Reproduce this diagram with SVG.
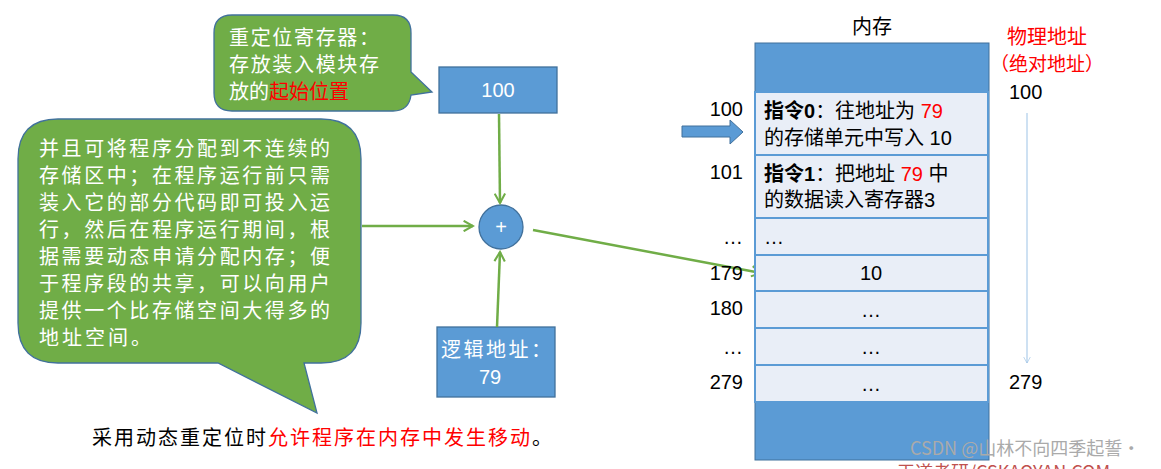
<svg xmlns="http://www.w3.org/2000/svg" width="1161" height="469" viewBox="0 0 1161 469">
<style>
text{font-family:"Liberation Sans","Noto Sans CJK SC",sans-serif;}
.cjk{font-family:"Noto Sans CJK SC",sans-serif;}
.w{fill:#fff;font-size:20px}
.k{fill:#000;font-size:20px}
.r{fill:#f00}
.blue{fill:#5b9bd5;stroke:#41719c;stroke-width:1.3}
.cell{fill:#e9eef7;stroke:#5b9bd5;stroke-width:2}
.green{fill:#70ad47;stroke:#41719c;stroke-width:1.3}
.con{stroke:#70ad47;stroke-width:2.5;fill:none}
</style>
<defs>
<marker id="ga" viewBox="0 0 12 12" refX="10" refY="6" markerWidth="5" markerHeight="5" orient="auto"><path d="M1,1 L10,6 L1,11" fill="none" stroke="#70ad47" stroke-width="2"/></marker>
<marker id="ba" viewBox="0 0 12 12" refX="10" refY="6" markerWidth="8" markerHeight="8" orient="auto"><path d="M1,1 L10,6 L1,11" fill="none" stroke="#9dc3e6" stroke-width="1"/></marker>
</defs>
<rect width="1161" height="469" fill="#fff"/>
<g id="callout-top">
<path class="green" d="M232,15 H393 Q411,15 411,33 V72 L432,92 L411,95 Q409,111 393,111 H232 Q214,111 214,93 V33 Q214,15 232,15 Z"/>
<text class="w cjk" x="229" y="45" textLength="150">重定位寄存器：</text>
<text class="w cjk" x="229" y="72" textLength="150">存放装入模块存</text>
<text class="w cjk" x="229" y="99">放的<tspan class="r">起始位置</tspan></text>
</g>
<g id="callout-big">
<path class="green" d="M58,119 H321 Q361,119 361,159 V323 Q361,363 321,363 H304 L317,413 L218,363 H58 Q18,363 18,323 V159 Q18,119 58,119 Z"/>
<g class="w cjk">
<text x="39" y="156" textLength="291">并且可将程序分配到不连续的</text>
<text x="39" y="183" textLength="291">存储区中；在程序运行前只需</text>
<text x="39" y="210" textLength="291">装入它的部分代码即可投入运</text>
<text x="39" y="237" textLength="291">行，然后在程序运行期间，根</text>
<text x="39" y="264" textLength="291">据需要动态申请分配内存；便</text>
<text x="39" y="291" textLength="291">于程序段的共享，可以向用户</text>
<text x="39" y="318" textLength="291">提供一个比存储空间大得多的</text>
<text x="39" y="345" textLength="112">地址空间。</text>
</g>
</g>
<g id="reg"><rect class="blue" x="439" y="67" width="118" height="46"/><text class="w" x="498" y="97" text-anchor="middle">100</text></g>
<g id="adder"><circle class="blue" cx="501" cy="227" r="22"/><text class="w" x="501" y="234" text-anchor="middle" font-size="17">+</text></g>
<g id="logical"><rect class="blue" x="437" y="327" width="118" height="70"/><text class="w cjk" x="441" y="357" textLength="110">逻辑地址：</text><text class="w" x="490" y="384" text-anchor="middle">79</text></g>
<g id="connectors">
<line class="con" x1="499" y1="114" x2="500" y2="203" marker-end="url(#ga)"/>
<line class="con" x1="362" y1="226" x2="473" y2="226" marker-end="url(#ga)"/>
<line class="con" x1="497" y1="327" x2="500" y2="252" marker-end="url(#ga)"/>
<line class="con" x1="533" y1="230" x2="761" y2="273" marker-end="url(#ga)"/>
<line x1="1027" y1="113" x2="1027" y2="363" stroke="#9dc3e6" stroke-width="1" marker-end="url(#ba)"/>
<path d="M682,126 H730 V120 L743,132 L730,144 V137 H682 Z" fill="#5b9bd5" stroke="#41719c"/>
</g>
<g id="memory">
<text class="k cjk" x="872" y="34" text-anchor="middle" font-size="21">内存</text>
<rect x="755" y="43" width="234" height="417" fill="#5b9bd5" stroke="#41719c"/>
<rect class="cell" x="755" y="92" width="233" height="63"/>
<rect class="cell" x="755" y="155" width="233" height="63"/>
<rect class="cell" x="755" y="218" width="233" height="37"/>
<rect class="cell" x="755" y="255" width="233" height="36"/>
<rect class="cell" x="755" y="291" width="233" height="37"/>
<rect class="cell" x="755" y="328" width="233" height="37"/>
<rect class="cell" x="755" y="365" width="233" height="37"/>
<g class="k">
<text x="764" y="118"><tspan font-weight="bold">指令0</tspan>：往地址为 <tspan class="r">79</tspan></text>
<text x="764" y="145">的存储单元中写入 10</text>
<text x="764" y="181"><tspan font-weight="bold">指令1</tspan>：把地址 <tspan class="r">79</tspan> 中</text>
<text x="764" y="207">的数据读入寄存器3</text>
<text x="764" y="244">…</text>
<text x="871" y="280" text-anchor="middle">10</text>
<text x="871" y="317" text-anchor="middle">…</text>
<text x="871" y="354" text-anchor="middle">…</text>
<text x="871" y="391" text-anchor="middle">…</text>
<text x="743" y="116" text-anchor="end">100</text>
<text x="743" y="179" text-anchor="end">101</text>
<text x="743" y="244" text-anchor="end">…</text>
<text x="743" y="280" text-anchor="end">179</text>
<text x="743" y="315" text-anchor="end">180</text>
<text x="743" y="354" text-anchor="end">…</text>
<text x="743" y="389" text-anchor="end">279</text>
<text x="1009" y="99">100</text>
<text x="1009" y="389">279</text>
</g>
<text class="r cjk" x="1047" y="44" text-anchor="middle" font-size="20">物理地址</text>
<text class="r cjk" x="1047" y="71" text-anchor="middle" font-size="19">（绝对地址）</text>
</g>
<text class="k cjk" x="92" y="445" font-size="21" textLength="460">采用动态重定位时<tspan class="r">允许程序在内存中发生移动</tspan>。</text>
<text x="910" y="455" font-size="18" fill="#aaa" class="cjk">CSDN @山林不向四季起誓·</text>
<text x="897" y="479" font-size="18" fill="#c0504d" class="cjk">王道考研/CSKAOYAN.COM</text>
</svg>
